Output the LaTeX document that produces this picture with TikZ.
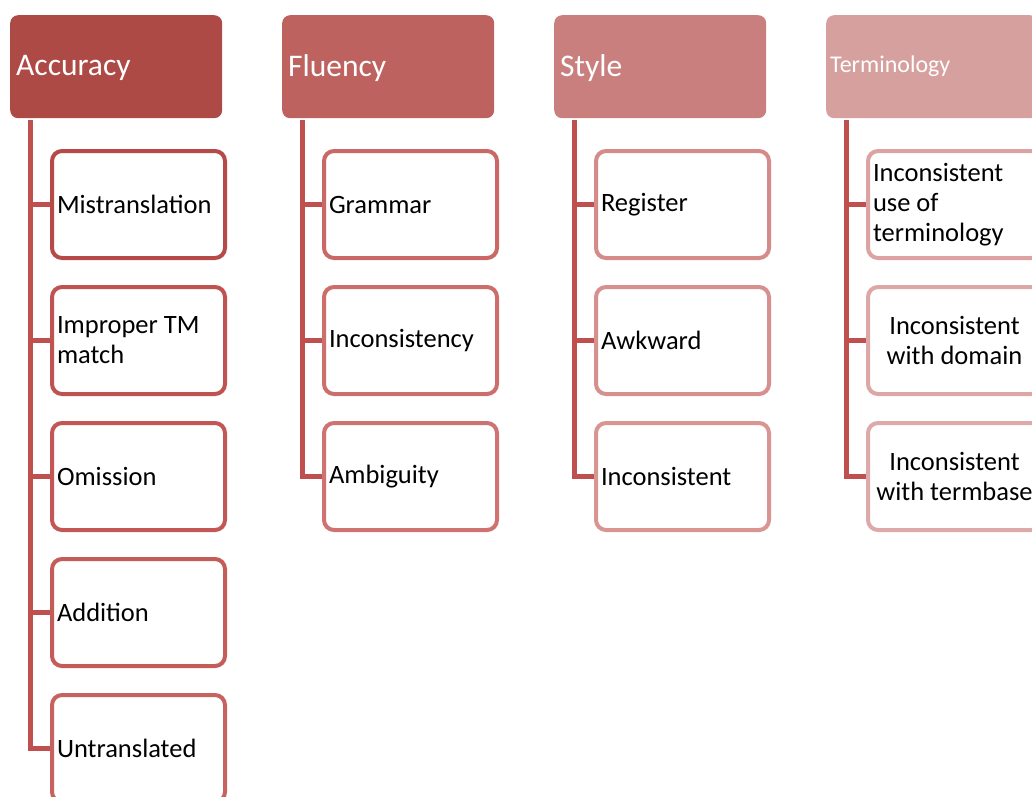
\documentclass[tikz,border=0pt]{standalone}
\usepackage{fontspec}
\setmainfont{Carlito}
\usetikzlibrary{calc}
\definecolor{conncol}{HTML}{C0504D}
\definecolor{hA}{HTML}{AE4A46}
\definecolor{hB}{HTML}{BD625F}
\definecolor{hC}{HTML}{C97F7E}
\definecolor{hD}{HTML}{D6A09F}
\definecolor{a1}{HTML}{B64A49}
\definecolor{a2}{HTML}{BE5351}
\definecolor{a3}{HTML}{C25755}
\definecolor{a4}{HTML}{C45C5A}
\definecolor{a5}{HTML}{C6625F}
\definecolor{b1}{HTML}{C96866}
\definecolor{b2}{HTML}{CC6E6C}
\definecolor{b3}{HTML}{CE7371}
\definecolor{c1}{HTML}{D48B8A}
\definecolor{c2}{HTML}{D6908E}
\definecolor{c3}{HTML}{D89592}
\definecolor{d1}{HTML}{DCA3A2}
\definecolor{d2}{HTML}{DDA7A6}
\definecolor{d3}{HTML}{DEAAA9}
\tikzset{
  hdr/.style={fill=#1, draw=none, rounded corners=8pt, minimum width=212pt, minimum height=103pt,
     text=white, inner sep=0pt, anchor=north west},
  hdrtext/.style={text=white, anchor=west, inner sep=0pt, font=\fontsize{31.5}{36}\selectfont},
  child/.style={draw=#1, line width=4pt, fill=white, rounded corners=10pt, minimum width=173pt,
     minimum height=107pt, text width=163pt, inner xsep=5pt, align=flush left, anchor=north west,
     font=\fontsize{26.5}{30}\selectfont},
  childc/.style={child=#1, align=flush center},
  conn/.style={draw=conncol, line width=5pt},
}
\begin{document}
\begin{tikzpicture}[x=1pt,y=-1pt]
\useasboundingbox (0,0) rectangle (1032,796);
\clip (0,0) rectangle (1032,796);
% headers
\node[hdr=hA] (acc) at (10,15) {};
\node[hdr=hB] (flu) at (282,15) {};
\node[hdr=hC] (sty) at (554,15) {};
\node[hdr=hD] (ter) at (826,15) {};
\node[hdrtext] (acct) at ($(acc.west)+(6,1)$) {Accuracy};
\node[hdrtext] (flut) at ($(flu.west)+(6,1)$) {Fluency};
\node[hdrtext] (styt) at ($(sty.west)+(6,1)$) {Style};
\node[hdrtext, font=\fontsize{24}{28}\selectfont] (tert) at ($(ter.west)+(4,0)$) {Terminology};
% accuracy children
\node[child=a1] (a1) at (50,149) {Mistranslation};
\node[child=a2] (a2) at (50,285) {Improper TM\\match};
\node[child=a3] (a3) at (50,421) {Omission};
\node[child=a4] (a4) at (50,557) {Addition};
\node[child=a5] (a5) at (50,693) {Untranslated};
% fluency
\node[child=b1] (b1) at (322,149) {Grammar};
\node[child=b2] (b2) at (322,285) {Inconsistency};
\node[child=b3] (b3) at (322,421) {Ambiguity};
% style
\node[child=c1] (c1) at (594,149) {Register};
\node[child=c2] (c2) at (594,285) {Awkward};
\node[child=c3] (c3) at (594,421) {Inconsistent};
% terminology
\node[child=d1] (d1) at (866,149) {Inconsistent\\use of\\terminology};
\node[childc=d2] (d2) at (866,285) {Inconsistent\\with domain};
\node[childc=d3] (d3) at (866,421) {Inconsistent\\with termbase};
% connectors
\foreach \h/\c in {acc/a1,acc/a2,acc/a3,acc/a4,acc/a5,flu/b1,flu/b2,flu/b3,sty/c1,sty/c2,sty/c3,ter/d1,ter/d2,ter/d3}{
  \draw[conn] ($(\h.south west)+(20,2)$) |- (\c.west);
}
\end{tikzpicture}
\end{document}
